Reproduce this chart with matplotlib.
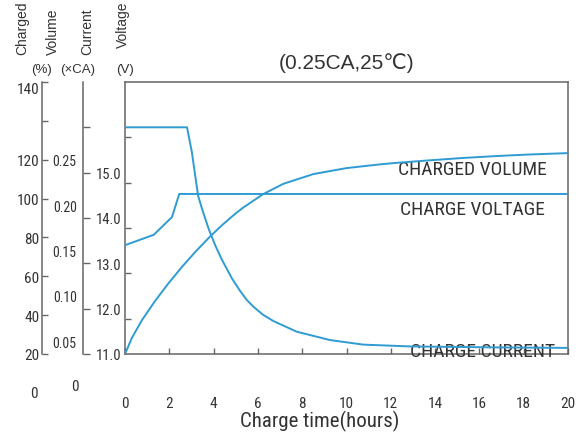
import matplotlib
matplotlib.use('Agg')
import matplotlib.pyplot as plt
from matplotlib import font_manager
from matplotlib.transforms import blended_transform_factory

# ---------------- fonts ----------------
_entries = [(f.name, f.stretch) for f in font_manager.fontManager.ttflist]
_names = {n for n, _ in _entries}
NARROW_KW = None
for cand in ['Liberation Sans Narrow', 'Arial Narrow', 'Roboto Condensed', 'Open Sans Condensed',
             'DejaVu Sans Condensed']:
    if cand in _names:
        NARROW_KW = dict(family=cand)
        break
if NARROW_KW is None:
    for n, st in _entries:
        if n in ('Roboto', 'Open Sans', 'DejaVu Sans', 'Noto Sans') and str(st) in ('condensed', 'semi-condensed', '75', '87'):
            NARROW_KW = dict(family=n, fontstretch=st)
            break
NSCALE = 1.0
if NARROW_KW is None:
    NARROW_KW = dict(family='Liberation Sans')
    NSCALE = 0.86
REG = 'Liberation Sans'

# ---------------- data ----------------
volume_t = [0, 0.32, 0.77, 1.37, 1.97, 2.57, 3.17, 3.85, 4.38, 4.98, 5.34, 6.24, 7.15, 8.50,
            10.01, 11.51, 12.27, 13.77, 15.26, 16.78, 18.28, 20]
volume_pct = [20.0, 28.5, 37.5, 47.5, 56.5, 64.8, 72.5, 80.6, 86.3, 92.2, 95.4, 102.3, 107.6, 112.6,
              115.7, 117.6, 118.4, 119.7, 120.9, 121.9, 122.7, 123.4]

current_t = [0, 2.80, 3.02, 3.17, 3.30, 3.48, 3.78, 4.08, 4.38, 4.83, 5.19, 5.49, 5.79, 6.23, 6.70,
             7.75, 9.26, 10.76, 12.87, 16.93, 20]
current_ca = [0.2859, 0.2859, 0.2583, 0.2325, 0.2104, 0.1957, 0.1736, 0.1552, 0.1395, 0.1190, 0.1055,
              0.0955, 0.0880, 0.0790, 0.0720, 0.0603, 0.0510, 0.0460, 0.0440, 0.0429, 0.0424]

voltage_t = [0, 1.30, 2.12, 2.45, 20]
voltage_v = [13.40, 13.63, 14.02, 14.53, 14.53]

x_ticks = [0, 2, 4, 6, 8, 10, 12, 14, 16, 18, 20]
vol_ticks = [20, 40, 60, 80, 100, 120, 140, 160]
vol_labels = ['20', '40', '60', '80', '100', '120', '', '140']
cur_ticks = [0.05, 0.10, 0.15, 0.20, 0.25]
cur_labels = ['0.05', '0.10', '0.15', '0.20', '0.25']
volt_ticks = [11, 12, 13, 14, 15, 16]
volt_labels = ['11.0', '12.0', '13.0', '14.0', '15.0', '']
main_ticks = [11.78, 12.78, 13.78, 14.78, 15.78]

title = '(0.25CA,25\u2103)'
xlabel = 'Charge time(hours)'

LINE = '#2f9bd3'
SPINE = '#666666'
TXT = '#333333'

W, H = 576, 439
fig = plt.figure(figsize=(W / 100, H / 100), dpi=100)
L, R, T, B = 125, 568, 83, 355
ax = fig.add_axes([L / W, (H - B) / H, (R - L) / W, (B - T) / H])


def ax_frac(px):
    return (px - L) / (R - L)


def narrow(lab, size):
    lab.set_fontfamily(NARROW_KW['family'])
    if 'fontstretch' in NARROW_KW:
        lab.set_fontstretch(NARROW_KW['fontstretch'])
    lab.set_fontsize(size * NSCALE)


# main axes (voltage units)
ax.set_xlim(0, 20)
ax.set_ylim(11, 17)
for s in ax.spines.values():
    s.set_color(SPINE)
    s.set_linewidth(1.1)
ax.set_xticks(x_ticks)
ax.set_xticklabels([str(v) for v in x_ticks])
ax.tick_params(axis='x', direction='in', length=4.5, width=1.0, color=SPINE, pad=30,
               labelcolor=TXT)
for lab in ax.get_xticklabels():
    narrow(lab, 11)
ax.set_yticks(main_ticks)
ax.set_yticklabels([''] * len(main_ticks))
ax.tick_params(axis='y', direction='in', length=4.5, width=1.0, color=SPINE)
xl = ax.set_xlabel(xlabel, color=TXT)
narrow(xl, 15)
ax.xaxis.set_label_coords(ax_frac(320), -0.205)
ax.set_title(title, fontsize=15, family=[REG, 'DejaVu Sans'], color=TXT, pad=10)

# voltage axis (right spine moved left)
ax_v = ax.twinx()
ax_v.set_ylim(11, 17)
for k in ['left', 'top', 'bottom']:
    ax_v.spines[k].set_visible(False)
ax_v.spines['right'].set_position(('axes', ax_frac(83)))
ax_v.spines['right'].set_color(SPINE)
ax_v.spines['right'].set_linewidth(1.1)
ax_v.set_yticks(volt_ticks)
ax_v.set_yticklabels(volt_labels)
ax_v.tick_params(axis='y', direction='out', length=5, width=1.0, color=SPINE, pad=4,
                 labelcolor=TXT)
for lab in ax_v.get_yticklabels():
    narrow(lab, 10.5)

# current axis (labels only)
ax_i = ax.twinx()
ax_i.set_ylim(0.03565, 0.3359)
for k in ['right', 'top', 'bottom', 'left']:
    ax_i.spines[k].set_visible(False)
ax_i.yaxis.set_ticks_position('left')
ax_i.spines['left'].set_position(('axes', ax_frac(83)))
ax_i.set_yticks(cur_ticks)
ax_i.set_yticklabels(cur_labels)
ax_i.tick_params(axis='y', length=0, pad=4.5, labelcolor=TXT)
for lab in ax_i.get_yticklabels():
    narrow(lab, 10)

# charged volume axis
ax_c = ax.twinx()
ax_c.set_ylim(20, 160)
for k in ['right', 'top', 'bottom']:
    ax_c.spines[k].set_visible(False)
ax_c.yaxis.set_ticks_position('left')
ax_c.spines['left'].set_visible(True)
ax_c.spines['left'].set_position(('axes', ax_frac(42)))
ax_c.spines['left'].set_color(SPINE)
ax_c.spines['left'].set_linewidth(1.1)
ax_c.set_yticks(vol_ticks)
ax_c.set_yticklabels(vol_labels)
ax_c.tick_params(axis='y', direction='in', length=4.5, width=1.0, color=SPINE, pad=2,
                 labelcolor=TXT)
for lab in ax_c.get_yticklabels():
    narrow(lab, 11)
ax_c.get_yticklabels()[-1].set_verticalalignment('top')

# curves
ax_c.plot(volume_t, volume_pct, color=LINE, lw=1.4)
ax_i.plot(current_t, current_ca, color=LINE, lw=1.4)
ax_v.plot(voltage_t, voltage_v, color=LINE, lw=1.4)

# zero labels below the scales
tc = blended_transform_factory(ax.transAxes, ax_c.transData)
z1 = ax.text(ax_frac(38), 0, '0', transform=tc, ha='right', va='center',
             color=TXT, clip_on=False)
narrow(z1, 11)
ti = blended_transform_factory(ax.transAxes, ax_i.transData)
z2 = ax.text(ax_frac(78.5), 0, '0', transform=ti, ha='right', va='center',
             color=TXT, clip_on=False)
narrow(z2, 11)

# curve labels
for txt, px, py in [('CHARGED VOLUME', 472, 170), ('CHARGE VOLTAGE', 472, 210),
                    ('CHARGE CURRENT', 483, 352)]:
    t = ax.text(ax_frac(px), (B - py) / (B - T), txt, transform=ax.transAxes,
                ha='center', va='center', color=TXT)
    narrow(t, 14)


# axis headers
def fx(px):
    return px / W


def fy(py):
    return 1 - py / H


for label, x, yb in [('Charged', 22, 55), ('Volume', 53, 55), ('Current', 87, 55), ('Voltage', 123, 48)]:
    fig.text(fx(x), fy(yb), label, rotation=90, ha='center', va='bottom', fontsize=10,
             family=REG, color=TXT)
for label, x in [('(%)', 42), ('(\u00d7CA)', 78), ('(V)', 125)]:
    fig.text(fx(x), fy(70), label, ha='center', va='center', fontsize=9.5,
             family=[REG, 'DejaVu Sans'], color=TXT)

fig.savefig('out.png', dpi=100)
